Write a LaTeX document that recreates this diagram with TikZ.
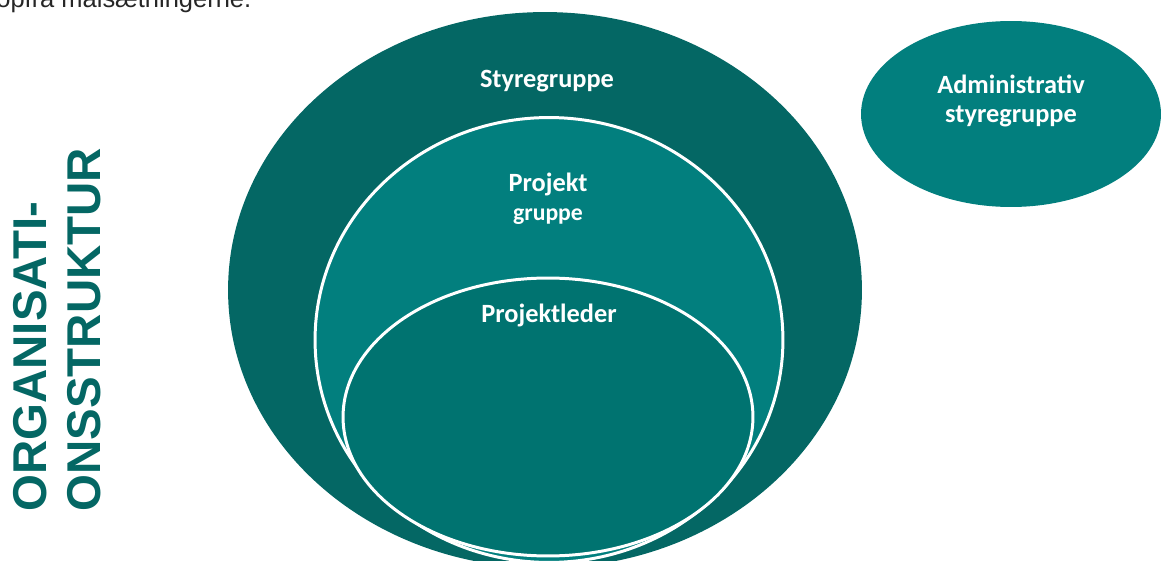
\documentclass[tikz,border=0pt]{standalone}
\usepackage{fontspec}
\setmainfont{Carlito}
\newfontfamily\arialfont{Liberation Sans}
\usetikzlibrary{shapes.geometric}
\definecolor{tealdark}{HTML}{046764}
\definecolor{tealmid}{HTML}{027F7E}
\definecolor{tealin}{HTML}{007370}

\begin{document}
\begin{tikzpicture}[x=0.02cm, y=-0.02cm,
blob/.style = {ellipse, inner sep=0pt, outer sep=0pt, draw=none},
ring/.style = {blob, draw=white, line width=1.7pt},
lbl/.style = {text=white, inner sep=0pt, align=center, anchor=base,
              font=\bfseries\fontsize{15}{16.3}\selectfont},
vtitle/.style = {rotate=90, anchor=base west, inner sep=0pt, text=tealdark,
              font=\arialfont\bfseries\fontsize{27}{30}\selectfont}
                        ]
\useasboundingbox (0,0) rectangle (1161,561);
\clip (0,0) rectangle (1161,561);
% cut-off line above the figure
\node (topnote) [anchor=base west, inner sep=0pt, text=black!85,
    font=\arialfont\fontsize{14.5}{17}\selectfont] at (-4,8) {opfra målsætningerne.};
% title
\node (title1) [vtitle] at (47,512)  {ORGANISATI-};
\node (title2) [vtitle] at (100,512) {ONSSTRUKTUR};
% nested ellipses
\node (styre) [blob, fill=tealdark, minimum width=12.68cm, minimum height=11.12cm] at (545,290) {};
\node (proj)  [ring, fill=tealmid,  minimum width=9.36cm,  minimum height=8.9cm]   at (549,340) {};
\node (leder) [ring, fill=tealin,   minimum width=8.2cm,   minimum height=5.56cm]  at (548,417) {};
\node (admin) [blob, fill=tealmid,  minimum width=6cm,     minimum height=3.72cm]  at (1011,114) {};
% labels (base = last line)
\node (styrelbl)  [lbl] at (547,87)   {Styregruppe};
\node (projlbl)   [lbl] at (548,220)  {Projekt\\{\fontsize{13.5}{16}\selectfont gruppe}};
\node (lederlbl)  [lbl] at (549,322)  {Projektleder};
\node (adminlbl)  [lbl] at (1011,122) {Administrativ\\styregruppe};
\end{tikzpicture}
\end{document}
